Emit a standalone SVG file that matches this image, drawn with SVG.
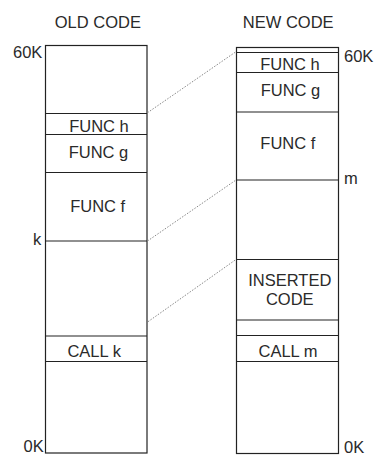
<svg xmlns="http://www.w3.org/2000/svg" width="375" height="456" viewBox="0 0 375 456">
<style>
text{font-family:"Liberation Sans",Arial,sans-serif;font-size:16.5px;fill:#2a2a2a}
.c{text-anchor:middle}
.box{fill:#fff;stroke:#222;stroke-width:1.2}
.div{stroke:#222;stroke-width:1.2}
.dot{stroke:#888;stroke-width:1;stroke-dasharray:1.5 1.5;fill:none}
</style>
<rect width="375" height="456" fill="#fff"/>
<text class="c" x="97.8" y="27.7">OLD CODE</text>
<text class="c" x="288.2" y="27.7">NEW CODE</text>
<g id="old-memory">
<rect class="box" x="45.5" y="45.5" width="101.5" height="407.5"/>
<line class="div" x1="45.5" y1="113.5" x2="147" y2="113.5"/>
<line class="div" x1="45.5" y1="134.5" x2="147" y2="134.5"/>
<line class="div" x1="45.5" y1="172.5" x2="147" y2="172.5"/>
<line class="div" x1="45.5" y1="241" x2="147" y2="241"/>
<line class="div" x1="45.5" y1="336" x2="147" y2="336"/>
<line class="div" x1="45.5" y1="361.5" x2="147" y2="361.5"/>
</g>
<g id="old-labels">
<text x="13" y="57.5">60K</text>
<text x="33" y="244.5">k</text>
<text x="23.5" y="452">0K</text>
<text class="c" x="99" y="131.5">FUNC h</text>
<text class="c" x="98.5" y="157.5">FUNC g</text>
<text class="c" x="97.7" y="211.7">FUNC f</text>
<text class="c" x="94.2" y="356.7">CALL k</text>
</g>
<g id="new-memory">
<rect class="box" x="236.5" y="47.5" width="102" height="406"/>
<line class="div" x1="236.5" y1="52.5" x2="338.5" y2="52.5"/>
<line class="div" x1="236.5" y1="72.5" x2="338.5" y2="72.5"/>
<line class="div" x1="236.5" y1="112" x2="338.5" y2="112"/>
<line class="div" x1="236.5" y1="180" x2="338.5" y2="180"/>
<line class="div" x1="236.5" y1="259.5" x2="338.5" y2="259.5"/>
<line class="div" x1="236.5" y1="320" x2="338.5" y2="320"/>
<line class="div" x1="236.5" y1="335.5" x2="338.5" y2="335.5"/>
<line class="div" x1="236.5" y1="361.5" x2="338.5" y2="361.5"/>
</g>
<g id="new-labels">
<text x="344" y="61.5">60K</text>
<text x="344" y="183.5">m</text>
<text x="344" y="452.5">0K</text>
<text class="c" x="290" y="70">FUNC h</text>
<text class="c" x="290.5" y="96">FUNC g</text>
<text class="c" x="287.8" y="149">FUNC f</text>
<text class="c" x="289.8" y="285.7">INSERTED</text>
<text class="c" x="289.8" y="305">CODE</text>
<text class="c" x="288" y="356.7">CALL m</text>
</g>
<g id="connectors">
<line class="dot" x1="147.5" y1="112.7" x2="236" y2="51.7"/>
<line class="dot" x1="147.5" y1="241" x2="236" y2="180"/>
<line class="dot" x1="148" y1="321.7" x2="236" y2="259.5"/>
</g>
</svg>
